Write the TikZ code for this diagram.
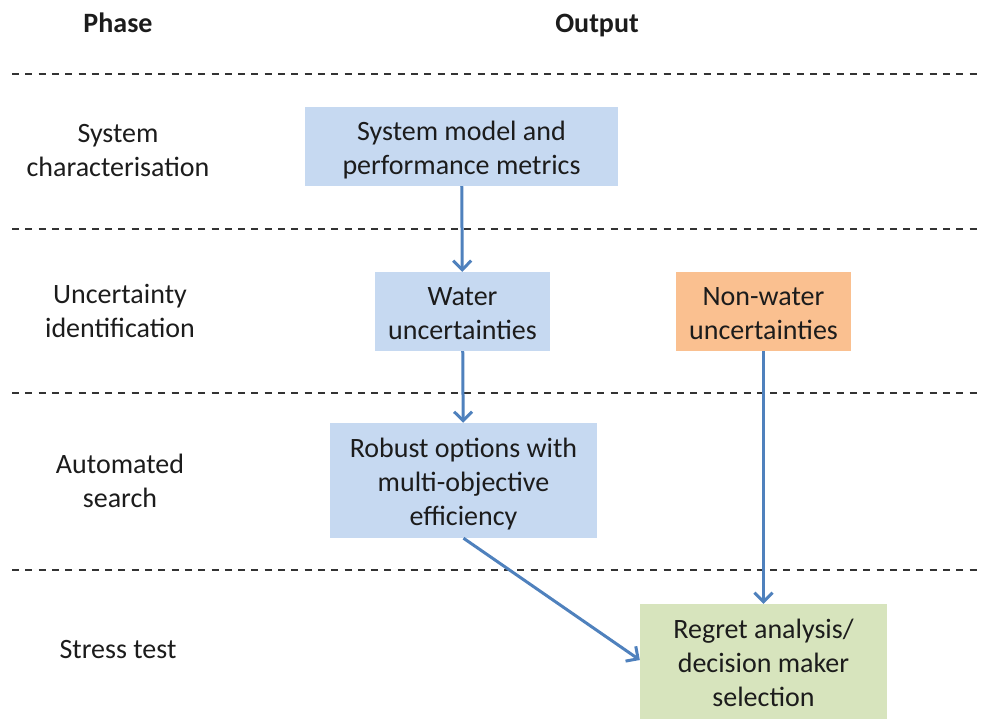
\documentclass[tikz,border=0pt]{standalone}
\usepackage{fontspec}
\setmainfont{Carlito}
\usepackage{tikz}
\usetikzlibrary{arrows.meta,positioning}

\definecolor{boxblue}{HTML}{C6D9F1}
\definecolor{boxorange}{HTML}{FAC090}
\definecolor{boxgreen}{HTML}{D7E4BD}
\definecolor{flowblue}{HTML}{4F81BD}
\definecolor{inkgray}{HTML}{1C1C1C}

\tikzset{
  phase/.style={text=inkgray,align=flush center,text width=230pt,inner sep=0pt,
    font=\fontsize{28}{34}\selectfont,
    execute at begin node={\rule{0pt}{27pt}},
    execute at end node={\rule[-6pt]{0pt}{6pt}}},
  outbox/.style={phase,fill=boxblue,draw=none},
  sep/.style={draw=black!80,line width=2.4pt,dash pattern=on 7pt off 6.3pt},
  flow/.style={->,draw=flowblue,line width=3pt}
}

\begin{document}
\begin{tikzpicture}[x=1pt,y=-1pt,>={Straight Barb[length=9pt,width=18pt]}]
 \useasboundingbox (0,0) rectangle (981,718);

 % headings
 \node [phase,font=\fontsize{28}{34}\selectfont\bfseries] (phasehd) at (118,21.5) {Phase};
 \node [phase,font=\fontsize{28}{34}\selectfont\bfseries] (outhd) at (597,21.5) {Output};

 % rows
 \foreach \y in {74,229,393,570}
   \draw [sep] (12,\y) -- (981,\y);

 \node [phase] (sysph) at (118,149) {System\\characterisation};
 \node [phase] (uncph) at (120,310) {Uncertainty\\identification};
 \node [phase] (autoph) at (120,480) {Automated\\search};
 \node [phase] (stressph) at (118,648) {Stress test};

 % outputs
 \node [outbox,text width=313pt,minimum height=79pt]      (sysmodel) at (461.5,146.5) {System model and\\performance metrics};
 \node [outbox,text width=175pt,minimum height=79pt]      (water)    at (462.5,311.5) {Water\\uncertainties};
 \node [outbox,fill=boxorange,text width=175pt,minimum height=79pt] (nonwater) at (763.5,311.5) {Non-water\\uncertainties};
 \node [outbox,text width=267pt,minimum height=115pt]     (robust)   at (463.5,480.5) {Robust options with\\multi-objective\\efficiency};
 \node [outbox,fill=boxgreen,text width=247pt,minimum height=116pt] (regret) at (763.5,662) {Regret analysis/\\decision maker\\selection};

 \draw [flow] (sysmodel) -- (water);
 \draw [flow] (water) -- (robust);
 \draw [flow] (nonwater.south) -- (nonwater.south |- regret.north);
 \draw [flow] (robust.south) -- (regret.west |- 0,660);

\end{tikzpicture}
\end{document}
